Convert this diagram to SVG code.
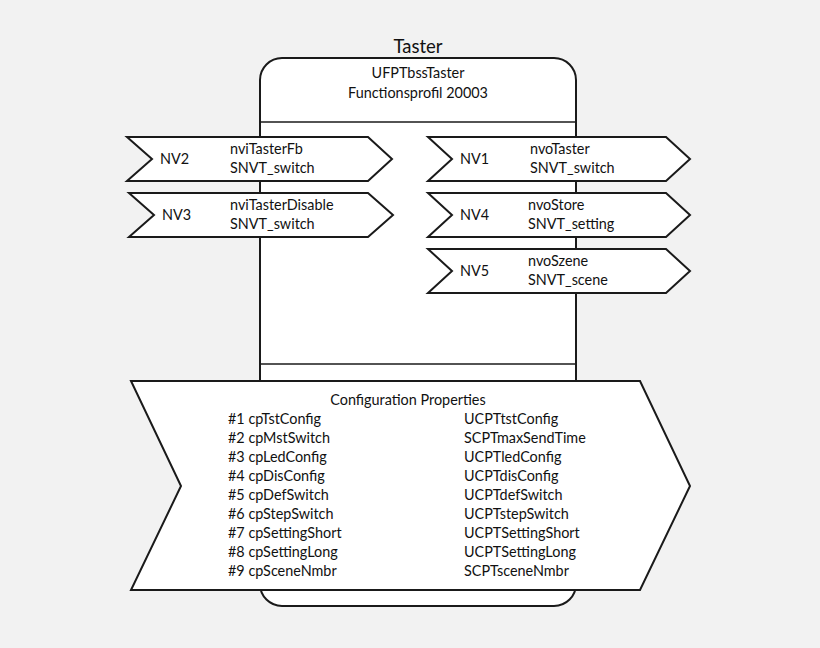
<svg xmlns="http://www.w3.org/2000/svg" width="820" height="648" viewBox="0 0 820 648">
<style>
.s{fill:#fff;stroke:#1a1a1a;stroke-width:2}
text{font-family:Lato,"Open Sans",sans-serif;font-size:14.4px;fill:#111}
.c{text-anchor:middle}
</style>
<rect width="820" height="648" fill="#f2f2f2"/>
<g id="block">
<text x="418" y="53" class="c" style="font-size:18.5px">Taster</text>
<rect class="s" x="260" y="58" width="316" height="548" rx="22"/>
<line x1="260" y1="122" x2="576" y2="122" stroke="#1a1a1a" stroke-width="1.5"/>
<line x1="260" y1="364" x2="576" y2="364" stroke="#1a1a1a" stroke-width="1.5"/>
<text x="418" y="78" class="c">UFPTbssTaster</text>
<text x="418" y="98" class="c">Functionsprofil 20003</text>
</g>
<g id="nv2"><polygon class="s" points="127,137 368,137 392,159 368,181 127,181 152,159"/>
<text x="160" y="164">NV2</text><text x="230" y="154">nviTasterFb</text><text x="230" y="173">SNVT_switch</text></g>
<g id="nv3"><polygon class="s" points="129,193 368,193 393,215 368,237 129,237 154,215"/>
<text x="162" y="220">NV3</text><text x="230" y="210">nviTasterDisable</text><text x="230" y="229">SNVT_switch</text></g>
<g id="nv1"><polygon class="s" points="428,137 666,137 690,159 666,181 428,181 452,159"/>
<text x="460" y="164">NV1</text><text x="530" y="154">nvoTaster</text><text x="530" y="173">SNVT_switch</text></g>
<g id="nv4"><polygon class="s" points="428,193 666,193 690,215 666,237 428,237 452,215"/>
<text x="460" y="220">NV4</text><text x="528" y="210">nvoStore</text><text x="528" y="229">SNVT_setting</text></g>
<g id="nv5"><polygon class="s" points="428,249 666,249 690,271 666,293 428,293 452,271"/>
<text x="460" y="276">NV5</text><text x="528" y="266">nvoSzene</text><text x="528" y="285">SNVT_scene</text></g>
<g id="cp"><polygon class="s" points="131,381 640,381 690,486 640,590 131,590 181,486"/>
<text x="408" y="405" class="c">Configuration Properties</text>
<g>
<text x="228" y="424">#1 cpTstConfig</text><text x="228" y="443">#2 cpMstSwitch</text><text x="228" y="462">#3 cpLedConfig</text><text x="228" y="481">#4 cpDisConfig</text><text x="228" y="500">#5 cpDefSwitch</text><text x="228" y="519">#6 cpStepSwitch</text><text x="228" y="538">#7 cpSettingShort</text><text x="228" y="557">#8 cpSettingLong</text><text x="228" y="576">#9 cpSceneNmbr</text>
<text x="464" y="424">UCPTtstConfig</text><text x="464" y="443">SCPTmaxSendTime</text><text x="464" y="462">UCPTledConfig</text><text x="464" y="481">UCPTdisConfig</text><text x="464" y="500">UCPTdefSwitch</text><text x="464" y="519">UCPTstepSwitch</text><text x="464" y="538">UCPTSettingShort</text><text x="464" y="557">UCPTSettingLong</text><text x="464" y="576">SCPTsceneNmbr</text>
</g></g>
<g id="connectors"/>
</svg>
